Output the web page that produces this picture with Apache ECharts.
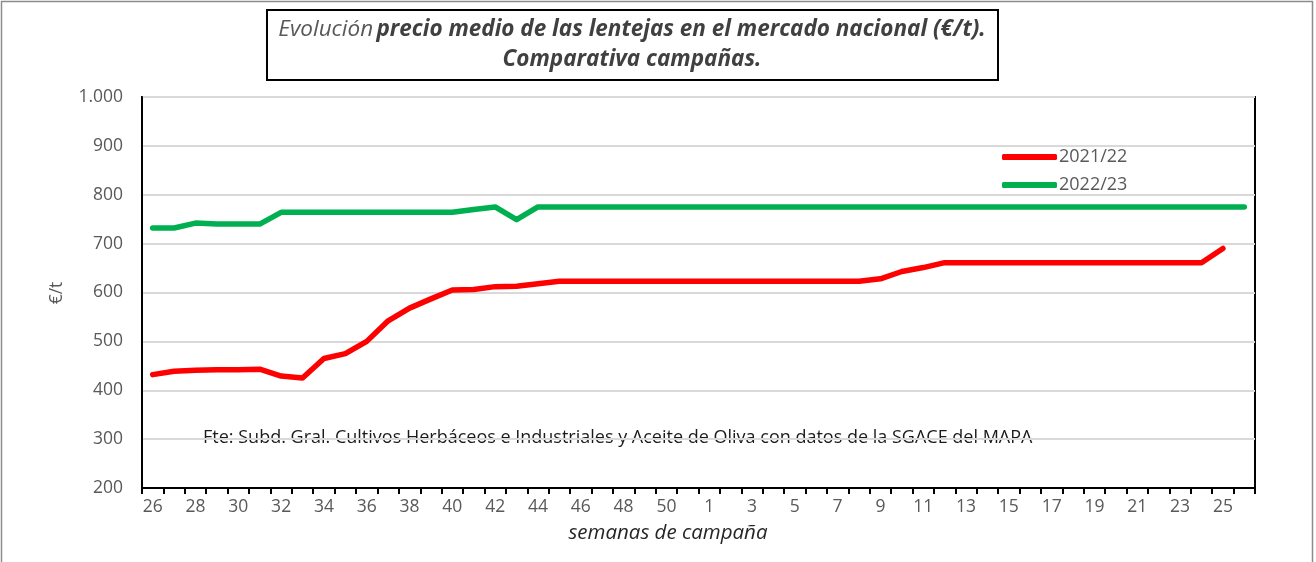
<!DOCTYPE html>
<html>
<head>
<meta charset="utf-8">
<script src="https://cdn.jsdelivr.net/npm/echarts@6/dist/echarts.min.js"></script>
<style>
  html, body { margin: 0; padding: 0; background: #ffffff; }
  #chart { width: 1316px; height: 562px; }
</style>
</head>
<body>
<div id="chart"></div>
<script>
// Campaign weeks: week 26 of one year through week 26 of the next
const weeks = [
  '26','27','28','29','30','31','32','33','34','35','36','37','38','39','40',
  '41','42','43','44','45','46','47','48','49','50','51',
  '1','2','3','4','5','6','7','8','9','10','11','12','13','14','15','16','17',
  '18','19','20','21','22','23','24','25','26'
];

// Average lentil price, €/t
const campaign2122 = [
  432, 439, 441, 442, 442, 443, 429, 425, 465, 475, 500, 542, 568, 587, 605,
  606, 612, 613, 618, 623, 623, 623, 623, 623, 623, 623,
  623, 623, 623, 623, 623, 623, 623, 623, 628, 643, 651, 661, 661, 661, 661, 661, 661,
  661, 661, 661, 661, 661, 661, 661, 690, null
];
const campaign2223 = [
  732, 732, 742, 740, 740, 740, 764, 764, 764, 764, 764, 764, 764, 764, 764,
  770, 775, 749, 775, 775, 775, 775, 775, 775, 775, 775,
  775, 775, 775, 775, 775, 775, 775, 775, 775, 775, 775, 775, 775, 775, 775, 775, 775,
  775, 775, 775, 775, 775, 775, 775, 775, 775
];

const seriesNames = ['2021/22', '2022/23'];
const yTicks = { min: 200, max: 1000, step: 100 };

const FONT = '"Open Sans", "Noto Sans", sans-serif';

const chart = echarts.init(document.getElementById('chart'), null, { renderer: 'canvas' });

chart.setOption({
  backgroundColor: '#ffffff',
  animation: false,
  textStyle: { fontFamily: FONT },
  grid: {
    left: 142, right: 61, top: 97, bottom: 74,
    show: true, borderColor: '#000000', borderWidth: 2
  },
  legend: {
    data: seriesNames,
    orient: 'vertical',
    left: 1002, top: 148,
    padding: 0,
    icon: 'roundRect',
    itemWidth: 55, itemHeight: 6,
    itemGap: 10,
    textStyle: { color: '#595959', fontSize: 18, fontFamily: FONT, padding: [0, 0, 0, -3] }
  },
  xAxis: {
    type: 'category',
    data: weeks,
    boundaryGap: true,
    axisLine: { lineStyle: { color: '#000000', width: 2 } },
    axisTick: { show: true, interval: 0, length: 6, lineStyle: { color: '#000000', width: 2 } },
    axisLabel: { interval: 1, color: '#595959', fontSize: 17.5, fontFamily: FONT, margin: 10 },
    splitLine: { show: false }
  },
  yAxis: {
    type: 'value',
    min: yTicks.min, max: yTicks.max, interval: yTicks.step,
    axisLine: { show: true, lineStyle: { color: '#000000', width: 2 } },
    axisTick: { show: false },
    axisLabel: {
      color: '#595959', fontSize: 17.5, fontFamily: FONT, margin: 19,
      formatter: v => v >= 1000 ? Math.floor(v / 1000) + '.' + String(v % 1000).padStart(3, '0') : String(v)
    },
    splitLine: { lineStyle: { color: '#d9d9d9', width: 2 } }
  },
  series: [
    {
      name: seriesNames[0], type: 'line', data: campaign2122,
      symbol: 'none', color: '#ff0000',
      lineStyle: { width: 5.5, cap: 'round', join: 'round' }
    },
    {
      name: seriesNames[1], type: 'line', data: campaign2223,
      symbol: 'none', color: '#00b050',
      lineStyle: { width: 5.5, cap: 'round', join: 'round' }
    }
  ],
  graphic: [
    {
      type: 'rect', silent: true, z: -1,
      shape: { x: 1.5, y: 1.5, width: 1311, height: 575 },
      style: { fill: null, stroke: '#8c8c8c', lineWidth: 1.5 }
    },
    {
      type: 'rect', silent: true,
      shape: { x: 267, y: 10, width: 731, height: 70 },
      style: { fill: '#ffffff', stroke: '#000000', lineWidth: 2 }
    },
    {
      type: 'text', silent: true, x: 632, y: 45,
      style: {
        text: '{a|Evolución} {b|precio medio de las lentejas en el mercado nacional (€/t).}\n{b|Comparativa campañas.}',
        align: 'center', verticalAlign: 'middle',
        rich: {
          a: { fontFamily: FONT, fontSize: 22.5, fontStyle: 'italic', fill: '#595959', lineHeight: 30 },
          b: { fontFamily: FONT, fontSize: 22.5, fontStyle: 'italic', fontWeight: 'bold', fill: '#404040', lineHeight: 30 }
        }
      }
    },
    {
      type: 'text', silent: true, x: 57, y: 293, rotation: Math.PI / 2,
      style: { text: '€/t', fontFamily: FONT, fontSize: 17.5, fill: '#595959', align: 'center', verticalAlign: 'middle' }
    },
    {
      type: 'text', silent: true, x: 668, y: 533,
      style: { text: 'semanas de campaña', fontFamily: FONT, fontSize: 20.5, fontStyle: 'italic', fill: '#262626', align: 'center', verticalAlign: 'middle' }
    },
    {
      type: 'text', silent: true, x: 203, y: 438,
      style: { text: 'Fte: Subd. Gral. Cultivos Herbáceos e Industriales y Aceite de Oliva con datos de la SGACE del MAPA', fontFamily: FONT, fontSize: 18, fill: '#1a1a1a', align: 'left', verticalAlign: 'middle' }
    }
  ]
});
</script>
</body>
</html>
